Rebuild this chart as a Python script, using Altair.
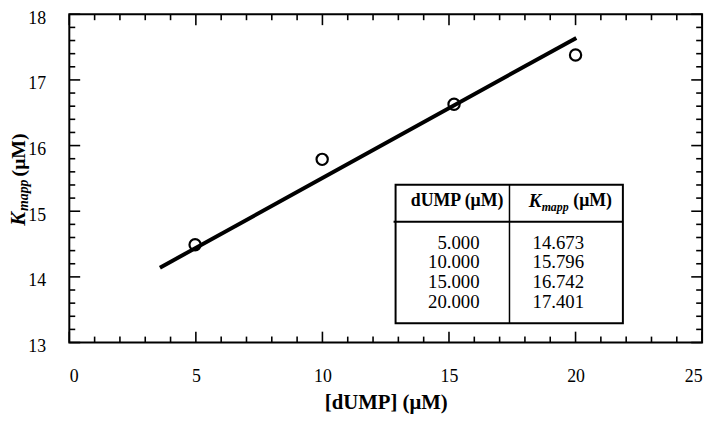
import altair as alt
import pandas as pd

# ---- data ----
dump_uM = [4.97, 9.99, 15.20, 20.00]
kmapp_uM = [14.49, 15.79, 16.63, 17.38]
fit_dump = [3.58, 20.03]
fit_kmapp = [14.14, 17.64]
table_dump = ["5.000", "10.000", "15.000", "20.000"]
table_kmapp = ["14.673", "15.796", "16.742", "17.401"]
x_major = [0, 5, 10, 15, 20, 25]
x_minor = [v for v in range(0, 26) if v % 5 != 0]
y_major = [13, 14, 15, 16, 17, 18]
y_minor = [round(13 + i * 0.2, 1) for i in range(26) if i % 5 != 0]

# ---- layout ----
W, H = 640, 332
FONT = "Liberation Serif"
MAJOR_LEN, MINOR_LEN = 11, 6

xs = alt.Scale(domain=[0, 25], nice=False, zero=False)
ys = alt.Scale(domain=[13, 18], nice=False, zero=False)

# table layout (data units)
tab_left, tab_right, tab_div = 12.89, 21.87, 17.39
tab_top, tab_bottom, tab_head = 15.404, 13.295, 14.839
head_y = 15.149
row_y = [14.52, 14.22, 13.92, 13.62]
col1_right = 16.21
col2_left = 18.30

x_axis = alt.Axis(values=x_major, ticks=False, domain=False, grid=False,
                  labelFont=FONT, labelFontSize=18, labelColor="black",
                  labelPadding=25, format="d",
                  title="[dUMP] (μM)", titleFont=FONT, titleFontSize=21,
                  titleFontWeight="bold", titleColor="black", titlePadding=7)
y_axis = alt.Axis(values=y_major, ticks=False, domain=False, grid=False,
                  labelFont=FONT, labelFontSize=18, labelColor="black",
                  labelPadding=24, labelOffset=4, format="d", title="")


def X(field):
    return alt.X(field, scale=xs, axis=x_axis)


def Y(field):
    return alt.Y(field, scale=ys, axis=y_axis)


pts = pd.DataFrame({"dump": dump_uM, "kmapp": kmapp_uM})
fit = pd.DataFrame({"dump": fit_dump, "kmapp": fit_kmapp})

points = alt.Chart(pts).mark_point(shape="circle", filled=False, color="black",
                                   strokeWidth=2.2, size=130, opacity=1).encode(
    x=X("dump:Q"), y=Y("kmapp:Q"))

line = alt.Chart(fit).mark_line(color="black", strokeWidth=4, strokeCap="butt").encode(
    x=X("dump:Q"), y=Y("kmapp:Q"))


def tick_layer(vals, side, length):
    df = pd.DataFrame({"v": vals})
    m = alt.Chart(df).mark_rule(color="black", strokeWidth=1.6)
    if side == "bottom":
        return m.encode(x=X("v:Q"), y=alt.value(H), y2=alt.value(H - length))
    if side == "top":
        return m.encode(x=X("v:Q"), y=alt.value(0), y2=alt.value(length))
    if side == "left":
        return m.encode(y=Y("v:Q"), x=alt.value(0), x2=alt.value(length))
    return m.encode(y=Y("v:Q"), x=alt.value(W), x2=alt.value(W - length))


ticks = []
for side in ["bottom", "top"]:
    ticks.append(tick_layer(x_major, side, MAJOR_LEN))
    ticks.append(tick_layer(x_minor, side, MINOR_LEN))
for side in ["left", "right"]:
    ticks.append(tick_layer(y_major, side, MAJOR_LEN))
    ticks.append(tick_layer(y_minor, side, MINOR_LEN))

# table frame
box = alt.Chart(pd.DataFrame({"x": [tab_left], "x2": [tab_right],
                              "y": [tab_bottom], "y2": [tab_top]})).mark_rect(
    filled=False, stroke="black", strokeWidth=2).encode(
    x=X("x:Q"), x2="x2:Q", y=Y("y:Q"), y2="y2:Q")

divider = alt.Chart(pd.DataFrame({"x": [tab_div], "y": [tab_bottom], "y2": [tab_top]})).mark_rule(
    color="black", strokeWidth=1.5).encode(
    x=X("x:Q"), y=Y("y:Q"), y2="y2:Q")

head_line = alt.Chart(pd.DataFrame({"x": [tab_left - 0.08], "x2": [tab_right], "y": [tab_head]})).mark_rule(
    color="black", strokeWidth=2).encode(
    x=X("x:Q"), x2="x2:Q", y=Y("y:Q"))


def text_layer(df, **kw):
    return alt.Chart(df).mark_text(font=FONT, color="black", baseline="middle", **kw).encode(
        x=X("x:Q"), y=Y("y:Q"), text="t:N")


col1 = text_layer(pd.DataFrame({"x": [col1_right] * 4, "y": row_y, "t": table_dump}),
                  align="right", fontSize=19)
col2 = text_layer(pd.DataFrame({"x": [col2_left] * 4, "y": row_y, "t": table_kmapp}),
                  align="left", fontSize=19)
h1 = text_layer(pd.DataFrame({"x": [15.32], "y": [head_y], "t": ["dUMP (μM)"]}),
                align="center", fontSize=18, fontWeight="bold")
h2k = text_layer(pd.DataFrame({"x": [18.15], "y": [head_y], "t": ["K"]}),
                 align="left", fontSize=19, fontWeight="bold", fontStyle="italic")
h2s = text_layer(pd.DataFrame({"x": [18.66], "y": [head_y - 0.08], "t": ["mapp"]}),
                 align="left", fontSize=12, fontWeight="bold", fontStyle="italic")
h2u = text_layer(pd.DataFrame({"x": [19.91], "y": [head_y], "t": ["(μM)"]}),
                 align="left", fontSize=18, fontWeight="bold")

# y-axis title pieces (rotated)
ytk = alt.Chart(pd.DataFrame({"t": ["K"]})).mark_text(
    font=FONT, fontSize=21, fontWeight="bold", fontStyle="italic", angle=270,
    align="left", baseline="middle", color="black").encode(
    x=alt.value(-51), y=alt.value(214), text="t:N")
yts = alt.Chart(pd.DataFrame({"t": ["mapp"]})).mark_text(
    font=FONT, fontSize=14, fontWeight="bold", fontStyle="italic", angle=270,
    align="left", baseline="middle", color="black").encode(
    x=alt.value(-46), y=alt.value(199), text="t:N")
ytu = alt.Chart(pd.DataFrame({"t": ["(μM)"]})).mark_text(
    font=FONT, fontSize=20, fontWeight="bold", angle=270,
    align="left", baseline="middle", color="black").encode(
    x=alt.value(-51), y=alt.value(164), text="t:N")

chart = alt.layer(points, line, *ticks, box, divider, head_line,
                  col1, col2, h1, h2k, h2s, h2u, ytk, yts, ytu).properties(
    width=W, height=H,
    autosize=alt.AutoSizeParams(type="none"),
    padding={"left": 62, "top": 4, "right": 10, "bottom": 76},
    background="white",
).configure_view(stroke="black", strokeWidth=2)

chart.save("out.html", embed_options={"renderer": "svg", "actions": False})
